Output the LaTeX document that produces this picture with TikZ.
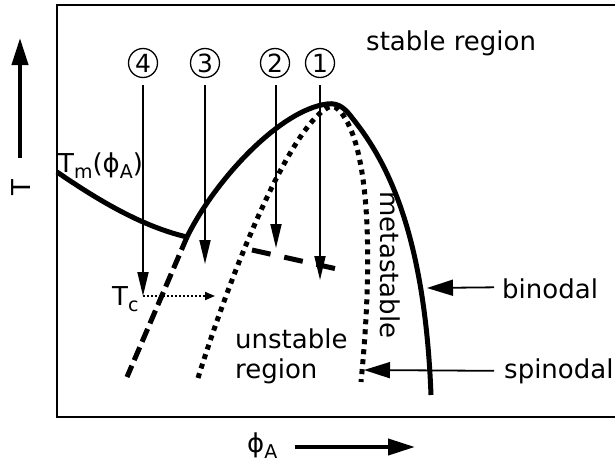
\documentclass[tikz,border=0pt]{standalone}
\usepackage{fontspec}
\setmainfont{DejaVu Sans}
\usetikzlibrary{arrows.meta}
\newcommand\lsub[1]{\raisebox{-6pt}{\fontsize{19}{20}\selectfont #1}}
\begin{document}
\begin{tikzpicture}[x=1pt,y=-1pt,
  lbl/.style={inner sep=0pt, font=\fontsize{26}{30}\selectfont},
  circnum/.style={circle, draw, line width=1.3pt, minimum size=29pt, inner sep=0pt, font=\fontsize{25}{30}\selectfont},
  thinarrow/.style={line width=1.8pt, -{Triangle[length=24pt,width=11pt]}},
  labarrow/.style={line width=1.8pt, -{Triangle[length=26pt,width=16pt]}},
  axisarrow/.style={line width=4pt, -{Triangle[length=27pt,width=16pt]}},
  curvesolid/.style={line width=5pt},
  curvedash/.style={line width=5pt, dash pattern=on 14pt off 6pt},
  curvedash2/.style={line width=5pt, dash pattern=on 19pt off 14pt},
  curvedot/.style={line width=5pt, dash pattern=on 5pt off 5pt},
  dotarrow/.style={line width=1.8pt, dash pattern=on 2pt off 2pt, -{Triangle[length=10pt,width=8pt]}}
]
\useasboundingbox (0,0) rectangle (615,463);
% frame
\draw[line width=2pt] (57,5) rectangle (620,417);
% axes
\coordinate (tb) at (20,158); \coordinate (tt) at (20,38);
\draw[axisarrow] (tb) -- (tt);
\node[lbl, rotate=90] (tlabel) at (21,188) {T};
\coordinate (xl) at (295,447); \coordinate (xr) at (415,447);
\draw[axisarrow] (xl) -- (xr);
\node[lbl, anchor=base west] (philabel) at (247,452) {ϕ\lsub{A}};
% melting curve
\coordinate (kink) at (187,237);
\draw[curvesolid] (57,172) .. controls (95,198) and (140,226) .. (kink);
% binodal
\draw[curvesolid] (kink) .. controls (215,180) and (280,110) .. (327,104)
  .. controls (340,102) and (347,111) .. (353,119)
  .. controls (390,165) and (425,240) .. (431,395);
\draw[curvedash] (kink) -- (127,377);
% spinodal
\draw[curvedot] (198,378) .. controls (235,260) and (290,130) .. (327,108)
  .. controls (333,104) and (338,108) .. (343,115)
  .. controls (368,150) and (374,250) .. (361,382);
% dashed between 2 and 1
\draw[curvedash2] (252,250) -- (346,271);
% circled numbers and arrows
\node[circnum] (n4) at (143,63) {4};
\node[circnum] (n3) at (205,63) {3};
\node[circnum] (n2) at (275,63) {2};
\node[circnum] (n1) at (320,63) {1};
\coordinate (e4) at (143,296);
\coordinate (e3) at (205,264);
\coordinate (e2) at (276,248);
\coordinate (e1) at (320,280);
\draw[thinarrow] (143,85) -- (e4);
\draw[thinarrow] (205,85) -- (e3);
\draw[thinarrow] (276,85) -- (e2);
\draw[thinarrow] (320,85) -- (e1);
% Tc
\node[lbl, anchor=base west] (tc) at (112,305) {T\lsub{c}};
\coordinate (tcend) at (215,296);
\draw[dotarrow] (e4) -- (tcend);
% labels
\node[lbl, anchor=base west] (stable) at (366,50) {stable region};
\node[lbl, anchor=base west] (tm) at (58,172) {T\lsub{m}(ϕ\lsub{A})};
\node[lbl, anchor=base west] (unst) at (235,348) {unstable};
\node[lbl, anchor=base west] (unst2) at (235,378) {region};
\node[lbl, anchor=base, rotate=-90] (meta) at (380,265) {metastable};
\node[lbl, anchor=base west] (bino) at (502,298) {binodal};
\node[lbl, anchor=base west] (spino) at (504,378) {spinodal};
\coordinate (bt) at (427,288);
\coordinate (st) at (364,370);
\draw[labarrow] (bino.west) ++(-8,-1) -- (bt);
\draw[labarrow] (spino.west) ++(-10,0) -- (st);
\end{tikzpicture}
\end{document}
